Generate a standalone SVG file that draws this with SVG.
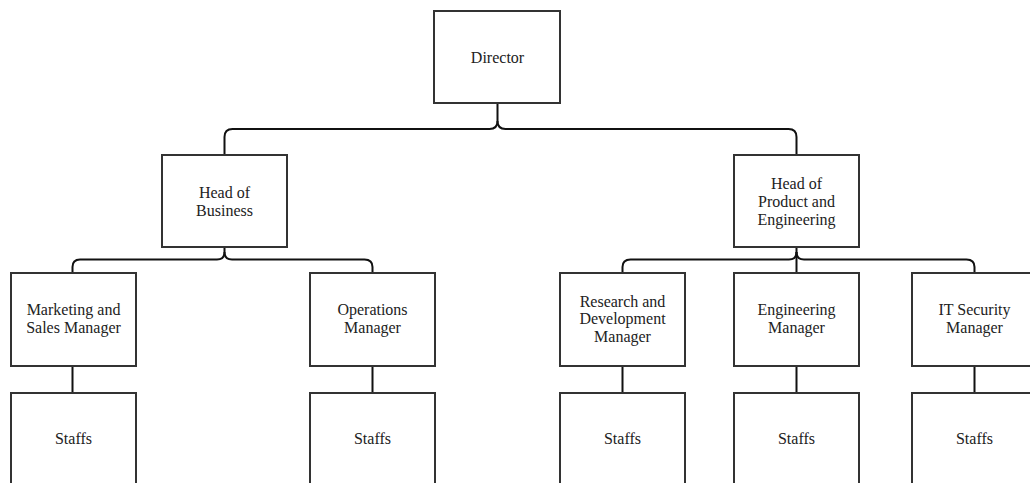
<svg xmlns="http://www.w3.org/2000/svg" width="1030" height="483" viewBox="0 0 1030 483">
<style>
.box{fill:#fff;stroke:#333;stroke-width:2}
.lbl{font-family:"Liberation Serif","Times New Roman",serif;font-size:16px;fill:#222;text-anchor:middle}
.conn{fill:none;stroke:#111;stroke-width:2}
</style>
<rect width="1030" height="483" fill="#fff"/>
<g id="connectors">
<path class="conn" d="M497.5,103 V121 Q497.5,129 489.5,129 H232.5 Q224.5,129 224.5,137 V155"/>
<path class="conn" d="M497.5,121 Q497.5,129 505.5,129 H788.5 Q796.5,129 796.5,137 V155"/>
<path class="conn" d="M224.5,247 V252 Q224.5,259.5 217,259.5 H80 Q72.5,259.5 72.5,267 V273"/>
<path class="conn" d="M224.5,252 Q224.5,259.5 232,259.5 H364.5 Q372.5,259.5 372.5,267 V273"/>
<path class="conn" d="M796.5,247 V273"/>
<path class="conn" d="M796.5,252 Q796.5,259.5 789,259.5 H630.5 Q622.5,259.5 622.5,267 V273"/>
<path class="conn" d="M796.5,252 Q796.5,259.5 804,259.5 H966.5 Q974.5,259.5 974.5,267 V273"/>
<path class="conn" d="M72.5,366 V393 M372.5,366 V393 M622.5,366 V393 M796.5,366 V393 M974.5,366 V393"/>
</g>
<g id="director"><rect class="box" x="434" y="11" width="126" height="92"/><text class="lbl" x="497.5" y="63">Director</text></g>
<g id="head-business"><rect class="box" x="162" y="155" width="125" height="92"/><text class="lbl" x="224.5" y="198">Head of</text><text class="lbl" x="224.5" y="215.8">Business</text></g>
<g id="head-product"><rect class="box" x="734" y="155" width="125" height="92"/><text class="lbl" x="796.5" y="189">Head of</text><text class="lbl" x="796.5" y="206.8">Product and</text><text class="lbl" x="796.5" y="224.6">Engineering</text></g>
<g id="marketing"><rect class="box" x="11" y="273" width="125" height="93"/><text class="lbl" x="73.5" y="315">Marketing and</text><text class="lbl" x="73.5" y="332.8">Sales Manager</text></g>
<g id="operations"><rect class="box" x="310" y="273" width="125" height="93"/><text class="lbl" x="372.5" y="315">Operations</text><text class="lbl" x="372.5" y="332.8">Manager</text></g>
<g id="research"><rect class="box" x="560" y="273" width="125" height="93"/><text class="lbl" x="622.5" y="306.5">Research and</text><text class="lbl" x="622.5" y="324.3">Development</text><text class="lbl" x="622.5" y="342.1">Manager</text></g>
<g id="engineering"><rect class="box" x="734" y="273" width="125" height="93"/><text class="lbl" x="796.5" y="315">Engineering</text><text class="lbl" x="796.5" y="332.8">Manager</text></g>
<g id="itsecurity"><rect class="box" x="912" y="273" width="125" height="93"/><text class="lbl" x="974.5" y="315">IT Security</text><text class="lbl" x="974.5" y="332.8">Manager</text></g>
<g id="staffs1"><rect class="box" x="11" y="393" width="125" height="100"/><text class="lbl" x="73.5" y="444">Staffs</text></g>
<g id="staffs2"><rect class="box" x="310" y="393" width="125" height="100"/><text class="lbl" x="372.5" y="444">Staffs</text></g>
<g id="staffs3"><rect class="box" x="560" y="393" width="125" height="100"/><text class="lbl" x="622.5" y="444">Staffs</text></g>
<g id="staffs4"><rect class="box" x="734" y="393" width="125" height="100"/><text class="lbl" x="796.5" y="444">Staffs</text></g>
<g id="staffs5"><rect class="box" x="912" y="393" width="125" height="100"/><text class="lbl" x="974.5" y="444">Staffs</text></g>
</svg>
